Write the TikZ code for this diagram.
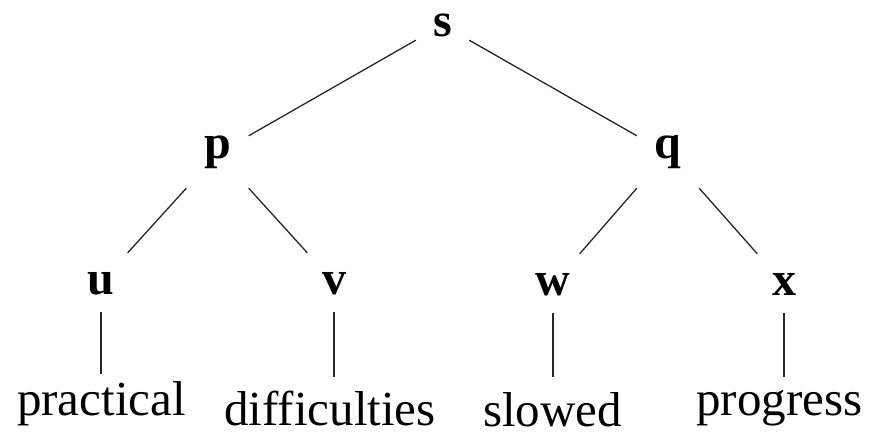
\documentclass[tikz,border=0pt]{standalone}
\usepackage{fontspec}
\setmainfont{Liberation Serif}
\begin{document}
\begin{tikzpicture}[x=1pt,y=-1pt,
  edge/.style={line width=1.3pt,black!85},
  inner/.style={font=\fontsize{48}{48}\selectfont\bfseries,inner sep=0pt,anchor=base},
  top/.style={inner,minimum width=53pt,text height=20pt,text depth=3pt},
  mid/.style={inner,minimum width=62pt,text height=23pt,text depth=29pt},
  low/.style={inner,minimum width=53pt,text height=41pt,text depth=18pt},
  word/.style={font=\fontsize{49}{49}\selectfont,inner sep=0pt,anchor=base,text depth=0pt}]
\useasboundingbox (0,0) rectangle (873,433);

% internal tree nodes
\node[top] (s) at (442.5,37) {s};
\node[mid] (p) at (217.5,159) {p};
\node[mid] (q) at (668,159) {q};
\node[low] (u) at (101,294) {u};
\node[low] (v) at (334,294) {v};
\node[low] (w) at (553,295) {w};
\node[low] (x) at (784,295) {x};

% leaves
\node[word,text height=41pt] (practical) at (101.5,415) {practical};
\node[word,text height=48pt] (difficulties) at (330,425) {difficulties};
\node[word,text height=49pt] (slowed) at (552.5,426) {slowed};
\node[word,text height=38pt] (progress) at (779.5,415) {progress};

% branches
\draw[edge] (s.south west) -- (p.north east);
\draw[edge] (s.south east) -- (q.north west);
\draw[edge] (p.south west) -- (u.north east);
\draw[edge] (p.south east) -- (v.north west);
\draw[edge] (q.south west) -- (w.north east);
\draw[edge] (q.south east) -- (x.north west);
\draw[edge] (u.south) -- (u.south |- practical.north);
\draw[edge] (v.south) -- (v.south |- difficulties.north);
\draw[edge] (w.south) -- (w.south |- slowed.north);
\draw[edge] (x.south) -- (x.south |- progress.north);
\end{tikzpicture}
\end{document}
